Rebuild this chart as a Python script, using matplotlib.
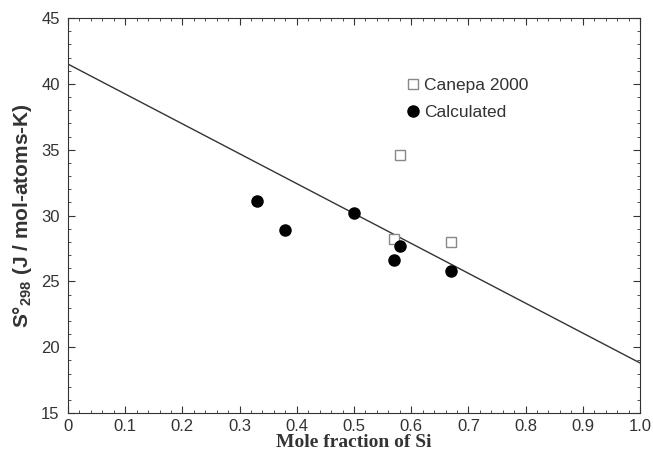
import matplotlib
matplotlib.use("Agg")
import matplotlib.pyplot as plt
from matplotlib.ticker import MultipleLocator

canepa_x = [0.58, 0.57, 0.67]
canepa_y = [34.6, 28.2, 28.0]
calc_x = [0.33, 0.38, 0.50, 0.57, 0.58, 0.67]
calc_y = [31.1, 28.9, 30.2, 26.6, 27.7, 25.8]
fit_x = [0.0, 1.0]
fit_y = [41.5, 18.8]
xticks = [0, 0.1, 0.2, 0.3, 0.4, 0.5, 0.6, 0.7, 0.8, 0.9, 1.0]
xticklabels = ["0", "0.1", "0.2", "0.3", "0.4", "0.5", "0.6", "0.7", "0.8", "0.9", "1.0"]
yticks = [15, 20, 25, 30, 35, 40, 45]

plt.rcParams['font.family'] = ['Liberation Sans', 'DejaVu Sans']
plt.rcParams['mathtext.fontset'] = 'custom'
plt.rcParams['mathtext.rm'] = 'Liberation Sans'
plt.rcParams['mathtext.bf'] = 'Liberation Sans:bold'

fig = plt.figure(figsize=(6.53, 4.54), dpi=100)
ax = fig.add_axes([68/653, 1 - 413/454, (640-68)/653, (413-18)/454])

ax.plot(fit_x, fit_y, color='#333333', lw=1.0)
ax.plot(canepa_x, canepa_y, linestyle='none', marker='s', ms=6.5, mfc='white',
        mec='#888888', mew=1.0, label='Canepa 2000')
ax.plot(calc_x, calc_y, linestyle='none', marker='o', ms=8, color='black',
        label='Calculated')

ax.set_xlim(0, 1.0)
ax.set_ylim(15, 45)
ax.set_xticks(xticks)
ax.set_xticklabels(xticklabels)
ax.set_yticks(yticks)
ax.xaxis.set_minor_locator(MultipleLocator(0.02))
ax.yaxis.set_minor_locator(MultipleLocator(1))
ax.tick_params(which='both', direction='in', top=True, right=True, labelsize=12,
               colors='#333333', labelcolor='#333333')
ax.tick_params(which='major', length=5, pad=6)
ax.tick_params(axis='x', which='major', pad=4)
ax.tick_params(which='minor', length=2.5)
for s in ax.spines.values():
    s.set_color('#333333')

ax.set_xlabel('Mole fraction of Si', fontfamily='Liberation Serif', fontweight='bold',
              fontsize=14, color='#333333', labelpad=0)
ax.set_ylabel(r'S°$_{\mathbf{298}}$ (J / mol-atoms-K)', fontweight='bold',
              fontsize=15, color='#333333', labelpad=5)

leg = ax.legend(loc='upper left', bbox_to_anchor=(0.56, 0.888), frameon=False,
                fontsize=12.5, handletextpad=0.15, labelspacing=0.68, handlelength=1.0,
                labelcolor='#333333')

fig.savefig('out.png', dpi=100)
